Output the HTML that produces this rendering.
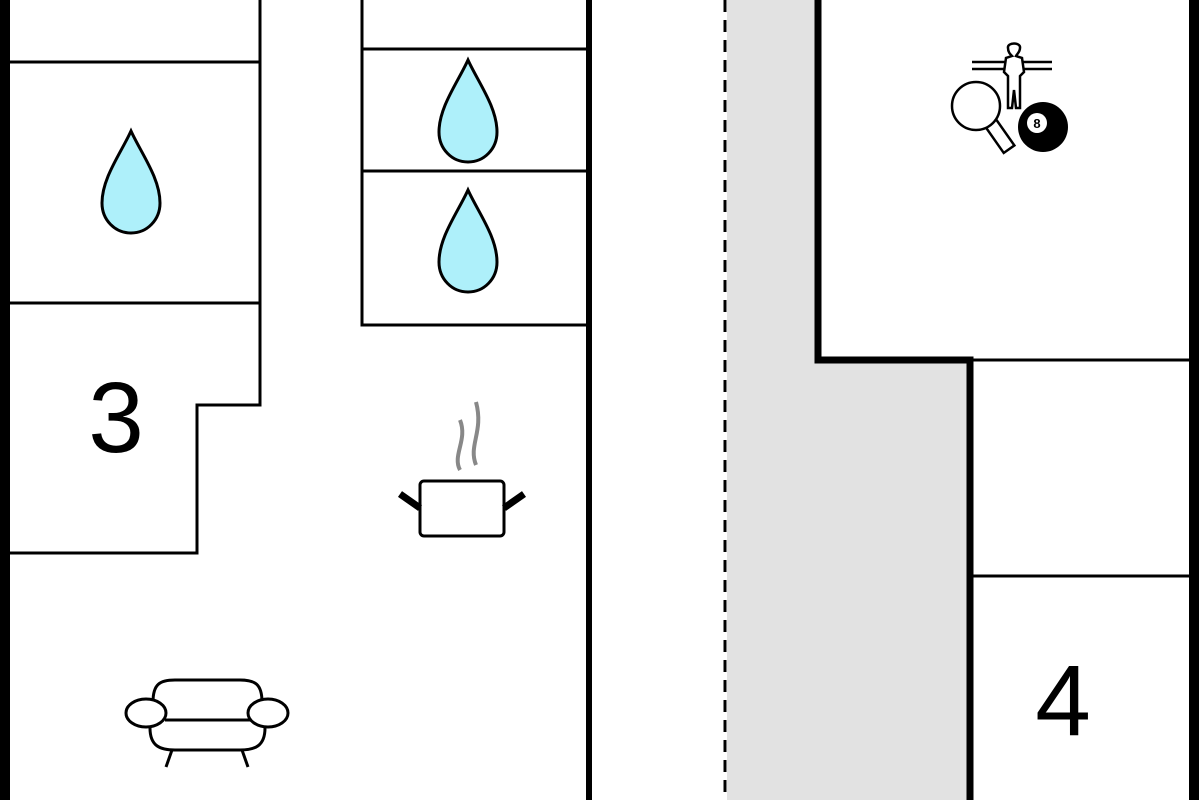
<!DOCTYPE html>
<html><head><style>body{margin:0;background:#fff}svg{display:block}</style></head><body>
<svg width="1200" height="800" viewBox="0 0 1200 800" xmlns="http://www.w3.org/2000/svg">
<defs>
<path id="drop" d="M0,-52 C10,-30 29,-5 29,20 C29,37 16,50 0,50 C-16,50 -29,37 -29,20 C-29,-5 -10,-30 0,-52 Z" fill="#aef0fa" stroke="#000" stroke-width="3"/>
</defs>
<rect x="727" y="0" width="243" height="800" fill="#e2e2e2"/>
<rect x="818" y="0" width="160" height="358" fill="#fff"/>
<g stroke="#000" fill="none">
<line x1="5" y1="0" x2="5" y2="800" stroke-width="10"/>
<line x1="1194" y1="0" x2="1194" y2="800" stroke-width="10"/>
<g stroke-width="3">
<line x1="10" y1="62" x2="260" y2="62"/>
<line x1="10" y1="303" x2="260" y2="303"/>
<polyline points="260,0 260,405 197,405 197,553 10,553"/>
<polyline points="362,0 362,325 587,325"/>
<line x1="362" y1="49" x2="587" y2="49"/>
<line x1="362" y1="171" x2="587" y2="171"/>
<line x1="970" y1="360" x2="1190" y2="360"/>
<line x1="970" y1="576" x2="1190" y2="576"/>
</g>
<line x1="589" y1="0" x2="589" y2="800" stroke-width="6"/>
<polyline points="818,0 818,360 970,360 970,800" stroke-width="7"/>
<line x1="725" y1="0" x2="725" y2="800" stroke-width="3" stroke-dasharray="12,8"/>
</g>
<use href="#drop" x="131" y="183"/>
<use href="#drop" x="468" y="112"/>
<use href="#drop" x="468" y="242"/>
<text x="116" y="452" font-family="Liberation Sans, sans-serif" font-size="100" text-anchor="middle">3</text>
<text x="1063" y="735" font-family="Liberation Sans, sans-serif" font-size="100" text-anchor="middle">4</text>
<!-- pot -->
<g fill="none">
<path d="M460,470 C452,455 468,440 460,420 M476,465 C468,445 484,432 476,402" stroke="#888" stroke-width="4"/>
<rect x="420" y="481" width="84" height="55" rx="4" stroke="#000" stroke-width="3" fill="#fff"/>
<line x1="400" y1="494" x2="420" y2="508" stroke="#000" stroke-width="7"/>
<line x1="524" y1="494" x2="504" y2="508" stroke="#000" stroke-width="7"/>
</g>
<!-- sofa -->
<g fill="#fff" stroke="#000" stroke-width="3">
<path d="M153,702 C153,684 160,680 175,680 L240,680 C255,680 262,684 262,702"/>
<path d="M150,728 C150,746 160,750 175,750 L240,750 C255,750 265,746 265,728"/>
<line x1="165" y1="720" x2="250" y2="720"/>
<ellipse cx="146" cy="713" rx="20" ry="14"/>
<ellipse cx="268" cy="713" rx="20" ry="14"/>
<line x1="172" y1="750" x2="166" y2="767"/>
<line x1="242" y1="750" x2="248" y2="767"/>
</g>
<!-- games -->
<g fill="#fff" stroke="#000" stroke-width="2.5">
<line x1="972" y1="62" x2="1052" y2="62"/>
<line x1="972" y1="69" x2="1052" y2="69"/>
<path d="M1008,48 C1007,42 1021,42 1020,48 C1020,52 1017,54 1016,56 L1022,58 L1024,72 L1020,76 L1020,108 L1016,108 L1014,90 L1012,108 L1008,108 L1008,76 L1004,72 L1006,58 L1012,56 C1010,54 1008,52 1008,48 Z"/>
<rect x="982" y="120" width="13" height="36" transform="rotate(-35 988 120)"/>
<circle cx="976" cy="106" r="24"/>
</g>
<circle cx="1043" cy="127" r="25" fill="#000"/>
<circle cx="1037" cy="123" r="10" fill="#fff"/>
<text x="1037" y="128" font-family="Liberation Sans, sans-serif" font-size="13" font-weight="bold" text-anchor="middle">8</text>
</svg>
</body></html>
